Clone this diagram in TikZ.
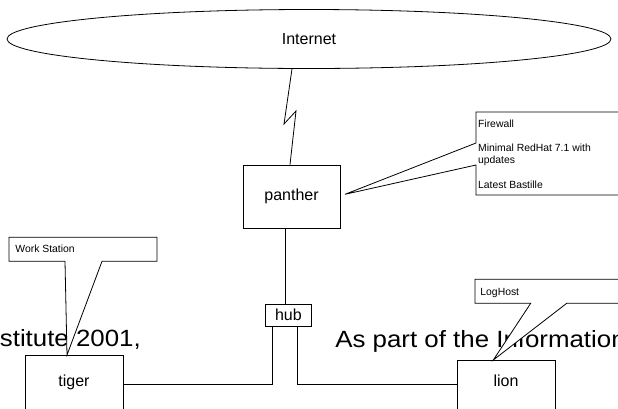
\documentclass[tikz,border=0pt]{standalone}
\usepackage{fontspec}
\setmainfont{Liberation Sans}
\usetikzlibrary{shapes.geometric}

\begin{document}
\begin{tikzpicture}[x=1pt,y=-1pt,line width=0.8pt,
    box/.style={draw,rectangle,inner sep=0pt,font=\fontsize{16}{19}\selectfont},
    host/.style={box,anchor=north,minimum width=98pt,text depth=30pt},
    note/.style={inner sep=0pt,anchor=base west,font=\fontsize{10.4}{12.3}\selectfont},
    bigtext/.style={inner sep=0pt,anchor=base west,font=\fontsize{23.5}{28}\selectfont},
    balloon/.style={draw,fill=white}]
    \useasboundingbox (0,0) rectangle (618,408);
    \node[bigtext] (inst) at (-0.5,346.7) {\scalebox{1.1}[1]{stitute 2001,}};
    \node[bigtext] (part) at (335,347) {\scalebox{1.1}[1]{As part of the Information}};
    \node[ellipse,draw,inner sep=0pt,minimum width=604pt,minimum height=59pt,
      font=\fontsize{16}{19}\selectfont] (internet) at (309,39) {Internet};
    \node[box,minimum width=97pt,minimum height=63pt] (panther) at (291.5,196.5) {panther};
    \node[box,minimum width=46.7pt,minimum height=22pt] (hub) at (288.4,315) {hub};
    \node[host,text height=31.5pt] (tiger) at (74,355) {tiger};
    \node[host,text height=26.5pt] (lion) at (506,360) {lion};
    \draw[balloon] (476,112) -- (625,112) -- (625,195) -- (476,195) -- (476,165)
      -- (345,194.3) -- (476,143) -- cycle;
    \draw[balloon] (9,237.3) -- (157,237.3) -- (157,261.3) -- (102,261.3)
      -- (67,355) -- (65,261.3) -- (9,261.3) -- cycle;
    \draw[balloon] (475,279.3) -- (625,279.3) -- (625,303.3) -- (566.7,303.3)
      -- (493.3,360) -- (530.7,303.3) -- (475,303.3) -- cycle;
    \node[note] (fw) at (477.7,127) {Firewall};
    \node[note] (rh) at (477.7,151.6) {Minimal RedHat 7.1 with};
    \node[note] (upd) at (477.7,163.9) {updates};
    \node[note] (bast) at (477.7,188.5) {Latest Bastille};
    \node[note] (ws) at (15,252.7) {Work Station};
    \node[note] (lh) at (480,295) {LogHost};
    \coordinate (zig1) at (284,124);
    \coordinate (zig2) at (296,111);
    \draw ([xshift=-17pt]internet.south) -- (zig1) -- (zig2) -- ([xshift=-1.5pt]panther.north);
    \draw ([xshift=-2.7pt]hub.north) -- ([xshift=-2.7pt]hub.north |- panther.south);
    \draw ([xshift=-15.7pt]hub.south) |- (tiger.mid east);
    \draw ([xshift=9.3pt]hub.south) |- (lion.mid west);
  \end{tikzpicture}
\end{document}
